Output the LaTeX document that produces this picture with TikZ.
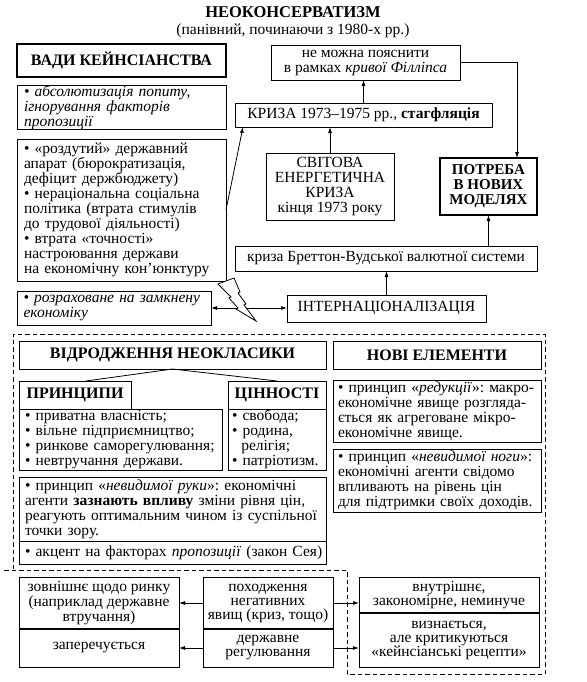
\documentclass[tikz,border=0pt]{standalone}
\usepackage{fontspec}
\setmainfont{Liberation Serif}
\usetikzlibrary{arrows.meta,calc}
\newcommand\bodyfont{\fontsize{15.5}{15}\selectfont\frenchspacing}
\newcommand\tightfont{\fontsize{15.5}{14}\selectfont\frenchspacing}
\newcommand\headfont{\fontsize{16}{16}\selectfont\bfseries}
\newcommand\oneline[1]{\mbox{#1}}
\begin{document}
\begin{tikzpicture}[x=1pt,y=-1pt,
  box/.style={draw, line width=0.8pt, inner sep=0pt, outer sep=0pt, font=\bodyfont, anchor=north west},
  lbox/.style={box, align=left, text width=#1},
  cell/.style={box, font=\tightfont, align=center},
  head/.style={box, font=\headfont},
  arr/.style={-{Latex[length=6pt,width=4pt]}, line width=0.8pt},
  darr/.style={{Latex[length=6pt,width=4pt]}-{Latex[length=6pt,width=4pt]}, line width=0.8pt},
  thin/.style={line width=0.8pt},
  sep/.style={line width=1.8pt},
  dashline/.style={line width=0.8pt, dash pattern=on 4.5pt off 3pt}
  ]
\useasboundingbox (0,0) rectangle (586,682);

% title
\node[font=\bfseries\fontsize{16.5}{18}\selectfont] (title) at (293,12) {НЕОКОНСЕРВАТИЗМ};
\node[font=\bodyfont] (sub) at (293,31) {(панівний, починаючи з 1980-х рр.)};

% upper left
\node[head, line width=1.2pt, minimum width=209pt, minimum height=33pt] (vady) at (17,44) {ВАДИ КЕЙНСІАНСТВА};
\node[lbox=195pt, minimum width=209pt, minimum height=44pt] (abs) at (17,85)
  {\itshape\oneline{• абсолютизація попиту,}\\ \oneline{\itshape ігнорування факторів}\\ \oneline{\itshape пропозиції}};
\node[lbox=195pt, minimum width=209pt, minimum height=142pt] (rozd) at (17,139)
  {\oneline{• «роздутий» державний}\\ \oneline{апарат (бюрократизація,}\\ \oneline{дефіцит держбюджету)}\\ \oneline{• нераціональна соціальна}\\ \oneline{політика (втрата стимулів}\\ \oneline{до трудової діяльності)}\\ \oneline{• втрата «точності»}\\ \oneline{настроювання держави}\\ \oneline{на економічну кон’юнктуру}};
\node[lbox=181pt, minimum width=194pt, minimum height=34pt] (rozr) at (17,291)
  {\oneline{\itshape • розраховане на замкнену}\\ \oneline{\itshape економіку}};

% upper right
\node[box, minimum width=189pt, minimum height=35pt, align=center] (fil) at (271,45)
  {не можна пояснити\\ в рамках \textit{кривої Філліпса}};
\node[box, minimum width=257pt, minimum height=24pt] (kriza) at (235,103)
  {КРИЗА 1973–1975 рр., \textbf{стагфляція}};
\node[box, minimum width=128pt, minimum height=67pt, align=center] (svit) at (266,153)
  {СВІТОВА\\ ЕНЕРГЕТИЧНА\\ КРИЗА\\ кінця 1973 року};
\node[box, line width=1.2pt, minimum width=97pt, minimum height=57pt, align=center, font=\bfseries\fontsize{15}{15}\selectfont] (potreba) at (440,158)
  {ПОТРЕБА\\ В НОВИХ\\ МОДЕЛЯХ};
\node[box, minimum width=302pt, minimum height=25pt] (bret) at (235,246)
  {криза Бреттон-Вудської валютної системи};
\node[box, minimum width=199pt, minimum height=27pt] (inter) at (287,295)
  {ІНТЕРНАЦІОНАЛІЗАЦІЯ};

% upper arrows
\draw[arr] (fil.east) -| ($(potreba.north west)+(77,0)$);
\draw[arr] (kriza.north) -- (kriza.north |- fil.south);
\draw[arr] (svit.north) -- (svit.north |- kriza.south);
\draw[arr] (bret.north -| potreba.south) -- (potreba.south);
\draw[arr] (inter.north) -- (inter.north |- bret.south);
\draw[arr] (rozd.east) -- ($(kriza.south west)+(8,0)$);
\draw[darr] (rozr.east) -- (rozr.east -| inter.west);

% lightning bolt
\filldraw[fill=white, thin, line join=miter]
  (218,284) -- (234,278) -- (240,292) -- (238,293) -- (246,304) -- (244,305) -- (256,321)
  -- (236,309) -- (238,308) -- (229,298) -- (231,297) -- cycle;

% dashed region
\draw[dashline] (4,570) -- (347,570) -- (347,674) -- (545,674) -- (545,334) -- (13,334) -- (13,570);

% neoclassic
\node[head, minimum width=307pt, minimum height=28pt] (vidr) at (19,341) {ВІДРОДЖЕННЯ НЕОКЛАСИКИ};
\node[head, minimum width=208pt, minimum height=28pt] (novi) at (333,341) {НОВІ ЕЛЕМЕНТИ};
\node[head, minimum width=112pt, minimum height=28pt] (princ) at (19,381) {ПРИНЦИПИ};
\node[head, minimum width=98pt, minimum height=28pt] (cinn) at (228,381) {ЦІННОСТІ};
\draw[thin] (vidr.south) -- ($(princ.north)+(11,0)$);
\draw[thin] (vidr.south) -- (cinn.north);
\node[lbox=191pt, minimum width=203pt, minimum height=61pt] (plist) at (19,409)
  {\oneline{• приватна власність;}\\ \oneline{• вільне підприємництво;}\\ \oneline{• ринкове саморегулювання;}\\ \oneline{• невтручання держави.}};
\node[lbox=90pt, minimum width=98pt, minimum height=61pt] (vlist) at (228,409)
  {\oneline{• свобода;}\\ \oneline{• родина,}\\ \oneline{\hspace*{0.6em}релігія;}\\ \oneline{• патріотизм.}};
\node[lbox=295pt, minimum width=307pt, minimum height=64pt] (ruky) at (19,477)
  {\oneline{• принцип «\textit{невидимої руки}»: економічні}\\ \oneline{агенти \textbf{зазнають впливу} зміни рівня цін,}\\ \oneline{реагують оптимальним чином із суспільної}\\ \oneline{точки зору.}};
\node[lbox=295pt, minimum width=307pt, minimum height=23pt] (akc) at (19,541)
  {\oneline{• акцент на факторах \textit{пропозиції} (закон Сея)}};
\node[lbox=198pt, minimum width=208pt, minimum height=62pt] (redu) at (333,380)
  {\oneline{• принцип «\textit{редукції}»: макро-}\\ \oneline{економічне явище розгляда-}\\ \oneline{ється як агреговане мікро-}\\ \oneline{економічне явище.}};
\node[lbox=198pt, minimum width=208pt, minimum height=63pt] (nogy) at (333,449)
  {\oneline{• принцип «\textit{невидимої ноги}»:}\\ \oneline{економічні агенти свідомо}\\ \oneline{впливають на рівень цін}\\ \oneline{для підтримки своїх доходів.}};

% bottom comparison
\node[cell, minimum width=160pt, minimum height=52pt] (zovn) at (19,577)
  {зовнішнє щодо ринку\\ (наприклад державне\\ втручання)};
\node[cell, minimum width=160pt, minimum height=38pt] (zaper) at (19,629) {заперечується};
\node[cell, minimum width=130pt, minimum height=52pt] (poh) at (203,577)
  {походження\\ негативних\\ явищ (криз, тощо)};
\node[cell, minimum width=130pt, minimum height=38pt] (derzh) at (203,629)
  {державне\\ регулювання};
\node[cell, minimum width=180pt, minimum height=36pt] (vnut) at (359,577)
  {внутрішнє,\\ закономірне, неминуче};
\node[cell, minimum width=180pt, minimum height=54pt] (vyzn) at (359,613)
  {визнається,\\ але критикуються\\ «кейнсіанські рецепти»};
\draw[sep] (zaper.north west) -- (zaper.north east);
\draw[sep] (derzh.north west) -- (derzh.north east);
\draw[sep] (vyzn.north west) -- (vyzn.north east);
\draw[arr] (poh.west) -- (poh.west -| zovn.east);
\draw[arr] (derzh.west) -- (derzh.west -| zaper.east);
\draw[arr] (poh.east) -- (poh.east -| vnut.west);
\draw[arr] (derzh.east) -- (derzh.east -| vyzn.west);
\end{tikzpicture}
\end{document}
